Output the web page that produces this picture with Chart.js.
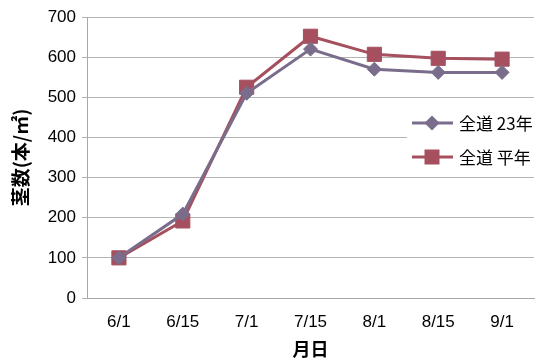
<!DOCTYPE html>
<html>
<head>
<meta charset="utf-8">
<script src="https://cdn.jsdelivr.net/npm/chart.js@4"></script>
<style>
  html, body { margin: 0; padding: 0; background: #fff; }
  #c { display: block; }
</style>
</head>
<body>
<canvas id="c" width="545" height="360"></canvas>
<script>
// Stem counts per square metre through the season
const dates = ['6/1', '6/15', '7/1', '7/15', '8/1', '8/15', '9/1'];
const seriesNames = ['全道 23年', '全道 平年'];
const stems2011 = [100, 209, 510, 620, 570, 562, 562];
const stemsNormal = [100, 192, 525, 652, 607, 597, 595];
const yTicks = [0, 100, 200, 300, 400, 500, 600, 700];

const purple = '#7a6d8b';
const red = '#a6505f';

// Legend drawn inside the plot area over a white box
const insideLegend = {
  id: 'insideLegend',
  afterDatasetsDraw(chart) {
    const ctx = chart.ctx;
    ctx.save();
    ctx.fillStyle = '#ffffff';
    ctx.fillRect(407, 104, 138, 70);
    const rows = [123, 157];
    chart.data.datasets.forEach((ds, i) => {
      const y = rows[i];
      ctx.strokeStyle = ds.borderColor;
      ctx.lineWidth = 3;
      ctx.beginPath();
      ctx.moveTo(412, y);
      ctx.lineTo(453, y);
      ctx.stroke();
      ctx.fillStyle = ds.pointBackgroundColor;
      ctx.beginPath();
      if (ds.pointStyle === 'rect') {
        ctx.rect(432 - 7.5, y - 7.5, 15, 15);
      } else {
        ctx.moveTo(432, y - 7.5);
        ctx.lineTo(439.5, y);
        ctx.lineTo(432, y + 7.5);
        ctx.lineTo(424.5, y);
        ctx.closePath();
      }
      ctx.fill();
      ctx.fillStyle = '#000000';
      ctx.font = '17px "Noto Sans CJK JP"';
      ctx.textBaseline = 'middle';
      ctx.textAlign = 'left';
      ctx.fillText(ds.label, 459, y + 1);
    });
    ctx.restore();
  }
};

new Chart(document.getElementById('c'), {
  type: 'line',
  data: {
    labels: dates,
    datasets: [
      {
        label: seriesNames[0],
        data: stems2011,
        borderColor: purple,
        backgroundColor: purple,
        pointBackgroundColor: purple,
        pointBorderColor: purple,
        borderWidth: 3,
        pointStyle: 'rectRot',
        pointRadius: 7,
        pointBorderWidth: 1,
        tension: 0
      },
      {
        label: seriesNames[1],
        data: stemsNormal,
        borderColor: red,
        backgroundColor: red,
        pointBackgroundColor: red,
        pointBorderColor: red,
        borderWidth: 3,
        pointStyle: 'rect',
        pointRadius: 10,
        pointBorderWidth: 1,
        tension: 0
      }
    ]
  },
  options: {
    responsive: false,
    animation: false,
    layout: { padding: { top: 17, right: 0, left: 0, bottom: 0 } },
    plugins: {
      legend: { display: false },
      tooltip: { enabled: false }
    },
    scales: {
      x: {
        offset: true,
        grid: { display: false, drawTicks: false },
        border: { display: true, color: '#a8a8a8', width: 1 },
        ticks: {
          color: '#000000',
          font: { family: '"Liberation Sans", Arial', size: 17 },
          padding: 14,
          maxRotation: 0
        },
        title: {
          display: true,
          text: '月日',
          color: '#000000',
          font: { family: '"Noto Sans CJK JP"', size: 18, weight: 'bold' },
          padding: { top: 0, bottom: 0 }
        },
        afterFit(scale) { scale.height = 62; }
      },
      y: {
        min: 0,
        max: 700,
        afterBuildTicks(scale) { scale.ticks = yTicks.map(v => ({ value: v })); },
        grid: { color: '#b4b4b4', lineWidth: 1, tickLength: 5, drawTicks: true },
        border: { display: true, color: '#a8a8a8', width: 1 },
        ticks: {
          color: '#000000',
          font: { family: '"Liberation Sans", Arial', size: 17 },
          padding: 6
        },
        title: {
          display: true,
          text: '茎数(本/㎡)',
          color: '#000000',
          font: { family: '"Noto Sans CJK JP"', size: 19, weight: 'bold' },
          padding: { top: 9, bottom: 0 }
        },
        afterFit(scale) { scale.width = 87; }
      }
    }
  },
  plugins: [insideLegend]
});
</script>
</body>
</html>
